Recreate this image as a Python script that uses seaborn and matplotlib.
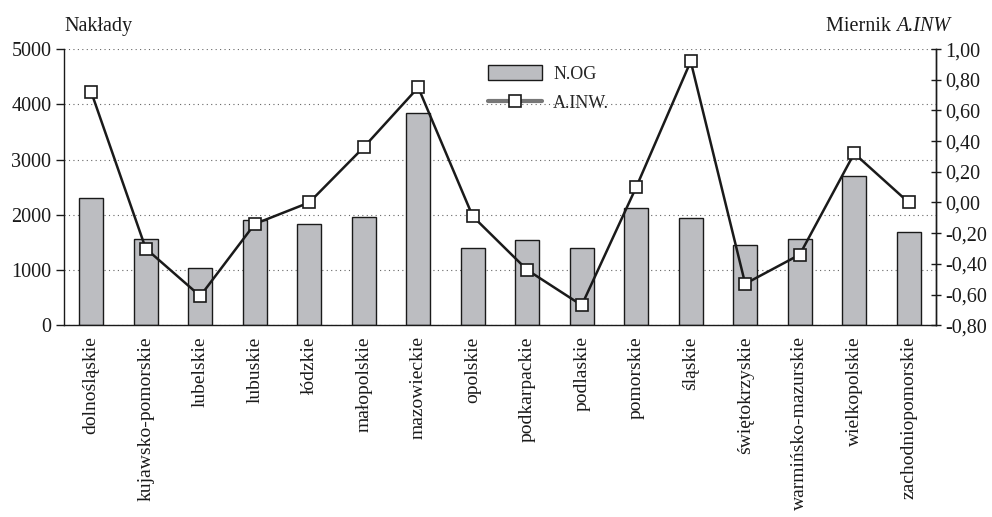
import numpy as np
import pandas as pd
import matplotlib
matplotlib.use("Agg")
import matplotlib.pyplot as plt
from matplotlib.ticker import FuncFormatter, FixedLocator, MultipleLocator
from matplotlib.lines import Line2D
from matplotlib.patches import Patch
import seaborn as sns

regions = ["dolnośląskie", "kujawsko-pomorskie", "lubelskie", "lubuskie", "łódzkie",
           "małopolskie", "mazowieckie", "opolskie", "podkarpackie", "podlaskie",
           "pomorskie", "śląskie", "świętokrzyskie", "warmińsko-mazurskie",
           "wielkopolskie", "zachodniopomorskie"]
n_og = [2300, 1570, 1030, 1900, 1825, 1965, 3835, 1390, 1540, 1390,
        2115, 1935, 1460, 1570, 2705, 1680]
a_inw = [0.72, -0.30, -0.61, -0.14, 0.00, 0.36, 0.75, -0.09, -0.44, -0.67,
         0.10, 0.92, -0.53, -0.34, 0.32, 0.00]

sns.set_theme(style="white")
plt.rcParams["font.family"] = ["Liberation Serif", "DejaVu Serif"]
plt.rcParams["font.size"] = 14

INK = "#1a1a1a"

fig = plt.figure(figsize=(9.92, 5.17), dpi=100)
ax = fig.add_axes([0.0645, 0.371, 0.879, 0.534])

df = pd.DataFrame({"region": regions, "N.OG": n_og})
sns.barplot(data=df, x="region", y="N.OG", ax=ax, color="#bcbdc1",
            saturation=1, width=0.44, edgecolor=INK, linewidth=1.0, zorder=2)

ax.set_ylim(0, 5000)
ax.set_xlim(-0.5, len(regions) - 0.5)
ax.yaxis.set_major_locator(MultipleLocator(1000))
ax.grid(axis="y", linestyle=(0, (1, 3)), color="#666666", linewidth=0.8, zorder=0)
ax.set_axisbelow(True)
ax.set_xlabel("")
ax.set_ylabel("")
ax.spines["top"].set_visible(False)
for s in ["left", "bottom", "right"]:
    ax.spines[s].set_color(INK)
    ax.spines[s].set_linewidth(1.0)

# category labels centred, tick marks between categories
ax.tick_params(axis="x", which="major", length=0, pad=8, labelsize=14,
               colors=INK, labelrotation=90)
ax.xaxis.set_minor_locator(FixedLocator(np.arange(-0.5, len(regions) + 0.5, 1)))
ax.tick_params(axis="x", which="minor", length=6, width=1.0, color=INK,
               direction="out")
for lbl in ax.get_xticklabels():
    lbl.set_verticalalignment("top")
ax.tick_params(axis="y", length=6, width=1.0, color=INK, direction="out",
               labelsize=14.5, labelcolor=INK, pad=3)

ax2 = ax.twinx()
ax2.plot(np.arange(len(regions)), a_inw, color=INK, linewidth=1.8,
         marker="s", markersize=9, markerfacecolor="white",
         markeredgecolor=INK, markeredgewidth=1.2, zorder=5)
ax2.set_ylim(-0.8, 1.0)
ax2.yaxis.set_major_locator(FixedLocator(np.round(np.arange(-0.8, 1.01, 0.2), 2)))


def comma_fmt(v, pos):
    v = round(v, 2)
    if abs(v) < 1e-9:
        v = 0.0
    return f"{v:.2f}".replace(".", ",")


ax2.yaxis.set_major_formatter(FuncFormatter(comma_fmt))
ax2.tick_params(axis="y", length=7, width=1.0, color=INK, direction="inout",
                labelsize=14.5, labelcolor=INK, pad=3)
ax2.grid(False)
for s in ["top", "left", "bottom"]:
    ax2.spines[s].set_visible(False)
ax2.spines["right"].set_color(INK)
ax2.spines["right"].set_linewidth(1.0)

fig.text(0.0645, 0.93, "Nakłady", fontsize=14.5, color=INK, ha="left", va="bottom")
t_it = fig.text(0.958, 0.93, "A.INW", fontsize=14.5, color=INK, ha="right",
                va="bottom", style="italic")
fig.canvas.draw()
bb = t_it.get_window_extent().transformed(fig.transFigure.inverted())
fig.text(bb.x0, 0.93, "Miernik ", fontsize=14.5, color=INK, ha="right", va="bottom")

handles = [Patch(facecolor="#bcbdc1", edgecolor=INK, linewidth=1.0),
           Line2D([0], [0], color="#777777", linewidth=3, marker="s", markersize=9,
                  markerfacecolor="white", markeredgecolor=INK,
                  markeredgewidth=1.2)]
leg = ax2.legend(handles, ["N.OG", "A.INW."], loc="upper left",
                 bbox_to_anchor=(0.468, 1.0), frameon=False, fontsize=13,
                 handlelength=3.0, handleheight=0.9, labelspacing=0.6,
                 handletextpad=0.6)

fig.savefig("out.png", dpi=100)
